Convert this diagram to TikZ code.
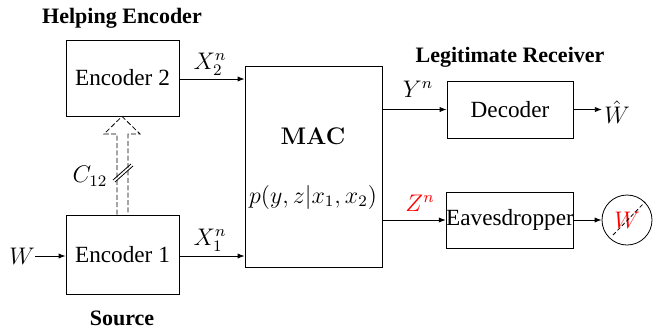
\documentclass[tikz,border=0pt]{standalone}
\usepackage[no-math]{fontspec}
\setmainfont{Liberation Serif}
\usetikzlibrary{arrows.meta,calc}
\tikzset{
  blk/.style={draw, inner sep=0pt, font=\fontsize{11.6}{14}\selectfont},
  head/.style={font=\fontsize{11}{13}\selectfont\bfseries, inner sep=0pt},
  lbl/.style={font=\fontsize{12}{14}\selectfont, inner sep=0pt},
  arr/.style={-{Latex[length=3.5pt,width=2.6pt]}},
  linkdash/.style={dash pattern=on 2.5pt off 1.2pt},
}
\begin{document}
\begin{tikzpicture}[x=0.5pt, y=-0.5pt]
\useasboundingbox (0,0) rectangle (657,329);

% blocks
\node[blk, minimum width=56.5pt, minimum height=38pt] (enc2) at (122.5,78) {Encoder 2};
\node[blk, minimum width=56.5pt, minimum height=39.5pt] (enc1) at (122.5,254.5) {Encoder 1};
\node[blk, minimum width=68.5pt, minimum height=100.5pt] (mac) at (313.5,166.5) {};
\node[blk, minimum width=63pt, minimum height=28.5pt] (dec) at (510,109.5) {Decoder};
\node[blk, minimum width=63pt, minimum height=28pt] (eve) at (510,220) {Eavesdropper};
\node[draw, circle, minimum size=25pt, inner sep=0pt] (wt) at (627,220) {};

% headings
\node[head] (hhelp) at (122,18) {Helping Encoder};
\node[head] (hsrc) at (122,318) {Source};
\node[head] (hleg) at (510,57) {Legitimate Receiver};

% channel text
\node[lbl, font=\fontsize{13}{15}\selectfont] (mact) at (313,136) {$\mathbf{MAC}$};
\node[lbl] (macp) at (313,197) {$p(y,z|x_1,x_2)$};

% terminals
\node[lbl] (w) at (22,256) {$W$};
\node[lbl, inner xsep=1pt] (what) at (617,112) {$\hat{W}$};
\node[lbl, text=red, font=\fontsize{13}{15}\selectfont] (wred) at (627,220) {$W$};

% signal labels
\node[lbl] (lx2) at (210,64) {$X_2^n$};
\node[lbl] (lx1) at (210,240) {$X_1^n$};
\node[lbl] (ly) at (418,89) {$Y^n$};
\node[lbl, text=red] (lz) at (420,203) {$Z^n$};
\node[lbl] (lc) at (90,176) {$C_{12}$};

% connectors
\draw[arr] (w.east) -- (w.east -| enc1.west);
\draw[arr] (enc2.east |- 0,79) -- (mac.west |- 0,79);
\draw[arr] (enc1.east |- 0,256) -- (mac.west |- 0,256);
\draw[arr] (mac.east |- dec.west) -- (dec.west);
\draw[arr] (mac.east |- eve.west) -- (eve.west);
\draw[arr] (dec.east) -- (dec.east -| what.west);
\draw[arr] (eve.east) -- (wt.west);

% dashed strike through the eavesdropper's message
\draw[dash pattern=on 2pt off 1.2pt] ($(wt.center)+(-14,15)$) -- ($(wt.center)+(18,-18)$);

% rate-limited link between the encoders
\draw[linkdash] (117,0 |- enc1.north) -- (117,134) -- (104,134) -- (enc2.south -| 122,0) -- (140,134) -- (128,134) -- (128,0 |- enc1.north);
\draw (113,180) -- (131,164);
\draw (115,182) -- (133,166);
\end{tikzpicture}
\end{document}
